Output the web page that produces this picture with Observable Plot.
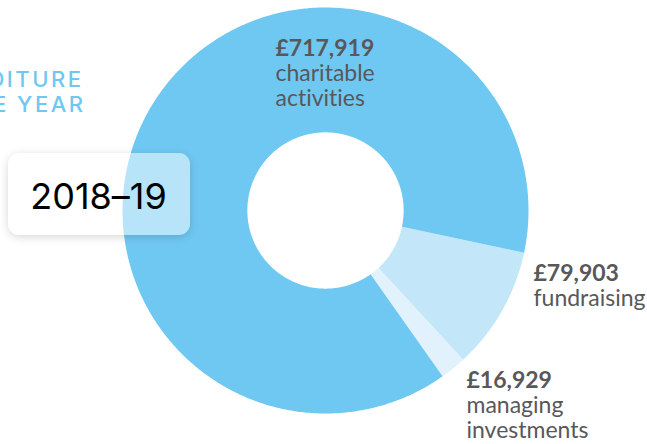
<!DOCTYPE html>
<html>
<head>
<meta charset="utf-8">
<script src="https://cdn.jsdelivr.net/npm/d3@7"></script>
<script src="https://cdn.jsdelivr.net/npm/@observablehq/plot@0.6"></script>
<style>
  html, body { margin: 0; padding: 0; background: #fff; overflow: hidden; }
  #chart { width: 647px; height: 444px; }
  #chart text { font-variant-ligatures: none; font-feature-settings: "liga" 0, "clig" 0; }
</style>
</head>
<body>
<div id="chart"></div>
<script>
// ---- data (clockwise order, starting from the fundraising slice) ----
const categories = ["fundraising", "managing investments", "charitable activities"];
const amounts = [79903, 16929, 717919];
const descriptions = [["fundraising"], ["managing", "investments"], ["charitable", "activities"]];
const titleLines = ["EXPENDITURE", "FOR THE YEAR"];
const period = "2018–19";

// ---- styling / layout ----
const colors = ["#c3e6f9", "#e1f2fc", "#6fc8f2"];
const startDeg = 102;
const innerRatio = 0.385;
const labelLayout = [
  {x: 533, y: 280},
  {x: 466, y: 387},
  {x: 275, y: 55}
];
const labelSize = 23;
const lineGap = 25;
const textColor = "#58585a";
const fmt = v => "£" + d3.format(",")(v);

// slice polygons from d3.pie angles
const pie = d3.pie().sort(null).value(d => d)
  .startAngle(startDeg * Math.PI / 180)
  .endAngle(startDeg * Math.PI / 180 + 2 * Math.PI);
const arcs = pie(amounts);
const pts = arcs.flatMap((a, i) => {
  const n = Math.max(2, Math.ceil((a.endAngle - a.startAngle) / (Math.PI / 360)));
  const t = d3.range(n + 1).map(k => a.startAngle + (a.endAngle - a.startAngle) * k / n);
  const outer = t.map(v => ({c: categories[i], x: Math.sin(v), y: Math.cos(v)}));
  const inner = t.slice().reverse().map(v => ({c: categories[i], x: innerRatio * Math.sin(v), y: innerRatio * Math.cos(v)}));
  return outer.concat(inner);
});

// label lines
const amountTexts = amounts.map((v, i) => ({text: fmt(v), dx: labelLayout[i].x, dy: labelLayout[i].y}));
const descTexts = descriptions.flatMap((lines, i) => lines.map((l, j) => ({text: l, dx: labelLayout[i].x, dy: labelLayout[i].y + lineGap * (j + 1)})));

// box behind the period label (shadow only outside, translucent white inside)
const boxMark = () => {
  const ns = "http://www.w3.org/2000/svg";
  const g = document.createElementNS(ns, "g");
  const defs = document.createElementNS(ns, "defs");
  defs.innerHTML =
    '<filter id="shOut" x="-20%" y="-40%" width="140%" height="180%">' +
    '<feGaussianBlur in="SourceAlpha" stdDeviation="4" result="b"/>' +
    '<feOffset in="b" dx="0" dy="2" result="o"/>' +
    '<feFlood flood-color="#000" flood-opacity="0.16" result="f"/>' +
    '<feComposite in="f" in2="o" operator="in" result="s"/>' +
    '<feComposite in="s" in2="SourceAlpha" operator="out"/>' +
    '</filter>';
  g.appendChild(defs);
  const mk = (fill, op, filter) => {
    const r = document.createElementNS(ns, "rect");
    r.setAttribute("x", 8); r.setAttribute("y", 153);
    r.setAttribute("width", 182); r.setAttribute("height", 82);
    r.setAttribute("rx", 11);
    r.setAttribute("fill", fill); r.setAttribute("fill-opacity", op);
    if (filter) r.setAttribute("filter", filter);
    g.appendChild(r);
  };
  mk("#fff", 1, "url(#shOut)");
  mk("#fff", 0.5, null);
  return g;
};

const textMarks = [];
amountTexts.forEach(d => textMarks.push(Plot.text([d], {
  text: "text", frameAnchor: "top-left", dx: d.dx, dy: d.dy, textAnchor: "start", lineAnchor: "bottom",
  fontFamily: "Lato", fontWeight: 700, fontSize: labelSize, fill: textColor
})));
descTexts.forEach(d => textMarks.push(Plot.text([d], {
  text: "text", frameAnchor: "top-left", dx: d.dx, dy: d.dy, textAnchor: "start", lineAnchor: "bottom",
  fontFamily: "Lato", fontWeight: 400, fontSize: labelSize, fill: textColor
})));

const chart = Plot.plot({
  width: 647, height: 444, margin: 0,
  style: {background: "#fff", overflow: "hidden"},
  x: {domain: [-1, 1], range: [122, 528], axis: null},
  y: {domain: [-1, 1], range: [413, 7], axis: null},
  color: {domain: categories, range: colors},
  marks: [
    Plot.text([titleLines[0]], {frameAnchor: "top-left", dx: 83, dy: 86, textAnchor: "end", lineAnchor: "bottom",
      fontFamily: "Inter", fontWeight: 500, fontSize: 22, fill: "#6fc8f2"}),
    Plot.text([titleLines[1]], {frameAnchor: "top-left", dx: 85, dy: 111, textAnchor: "end", lineAnchor: "bottom",
      fontFamily: "Inter", fontWeight: 500, fontSize: 22, fill: "#6fc8f2"}),
    Plot.line(pts, {x: "x", y: "y", z: "c", fill: "c", stroke: null, curve: "linear-closed"}),
    boxMark,
    Plot.text([period], {frameAnchor: "top-left", dx: 98, dy: 208, textAnchor: "middle", lineAnchor: "bottom",
      fontFamily: "Inter", fontWeight: 400, fontSize: 36, fill: "#000"}),
    ...textMarks
  ]
});
d3.select(chart).selectAll("text")
  .filter(function() { return titleLines.includes(this.textContent); })
  .style("letter-spacing", "2.5px");
document.getElementById("chart").appendChild(chart);
</script>
</body>
</html>
